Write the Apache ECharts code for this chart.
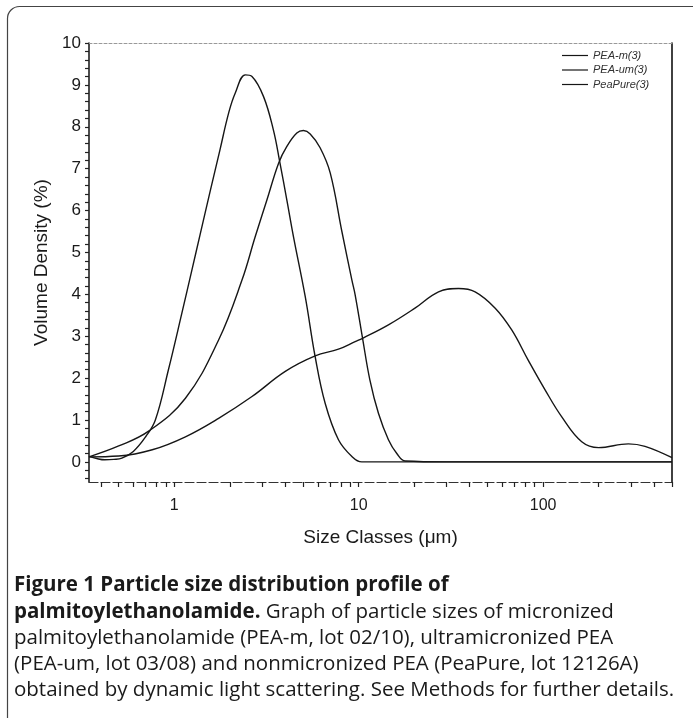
<!DOCTYPE html>
<html>
<head>
<meta charset="utf-8">
<script src="https://cdn.jsdelivr.net/npm/echarts@6/dist/echarts.min.js"></script>
<style>
  html, body { margin: 0; padding: 0; background: #fff; }
  #chart { width: 693px; height: 718px; }
</style>
</head>
<body>
<div id="chart"></div>
<script>
// ---- Data ----
const seriesNames = ['PEA-m(3)', 'PEA-um(3)', 'PeaPure(3)'];

const peaMX = [0.345, 0.5, 0.73, 1.15, 1.74, 2.33, 2.75, 3.18, 3.68, 4.08, 4.62, 5.02, 5.46, 6.18, 7.01, 8.11, 9.19, 9.57, 10.5, 11.5, 12.8, 14.5, 16.1, 17.9, 30, 100, 500];
const peaMY = [0.12, 0.38, 0.74, 1.52, 2.91, 4.34, 5.38, 6.25, 7.13, 7.53, 7.85, 7.91, 7.83, 7.5, 6.9, 5.5, 4.34, 3.99, 2.95, 1.96, 1.16, 0.53, 0.2, 0.02, 0, 0, 0];

const peaUmX = [0.345, 0.38, 0.42, 0.47, 0.52, 0.6, 0.7, 0.79, 0.93, 1.1, 1.25, 1.38, 1.57, 1.77, 1.97, 2.14, 2.43, 2.64, 3.05, 3.45, 3.72, 4.08, 4.43, 5.13, 5.81, 6.58, 7.77, 9.19, 10.4, 20, 100, 500];
const peaUmY = [0.13, 0.08, 0.05, 0.06, 0.09, 0.25, 0.6, 1.0, 2.2, 3.55, 4.6, 5.42, 6.48, 7.45, 8.32, 8.8, 9.24, 9.2, 8.72, 7.92, 7.2, 6.25, 5.38, 3.95, 2.51, 1.4, 0.53, 0.13, 0, 0, 0, 0];

const peaPureX = [0.345, 0.5, 0.76, 1.15, 1.74, 2.64, 4.0, 5.81, 7.77, 9.57, 10.5, 14.5, 20.2, 27.1, 34.8, 42.8, 55, 67.6, 83, 102.5, 126, 162, 200, 290, 357, 500];
const peaPureY = [0.12, 0.14, 0.29, 0.6, 1.04, 1.56, 2.16, 2.53, 2.69, 2.87, 2.95, 3.27, 3.67, 4.06, 4.14, 4.06, 3.67, 3.15, 2.43, 1.72, 1.08, 0.48, 0.34, 0.43, 0.37, 0.1];

const xLabelValues = [1, 10, 100];
const xTickValues = [0.4, 0.5, 0.6, 0.7, 0.8, 0.9, 1, 2, 3, 4, 5, 6, 7, 8, 9, 10, 20, 30, 40, 50, 60, 70, 80, 90, 100, 200, 300, 400, 500];
const yLabelValues = [0, 1, 2, 3, 4, 5, 6, 7, 8, 9, 10];
const yTickValues = [];
for (let i = -2; i <= 50; i++) yTickValues.push(Math.round(i * 0.2 * 10) / 10);

const xAxisTitle = 'Size Classes (μm)';
const yAxisTitle = 'Volume Density (%)';

const captionLines = [
  [['b', 'Figure 1 Particle size distribution profile of']],
  [['b', 'palmitoylethanolamide.'], ['r', ' Graph of particle sizes of micronized']],
  [['r', 'palmitoylethanolamide (PEA-m, lot 02/10), ultramicronized PEA']],
  [['r', '(PEA-um, lot 03/08) and nonmicronized PEA (PeaPure, lot 12126A)']],
  [['r', 'obtained by dynamic light scattering. See Methods for further details.']]
];

// ---- Build ----
function pairs(xs, ys) { return xs.map((x, i) => [x, ys[i]]); }

const chart = echarts.init(document.getElementById('chart'), null, { renderer: 'canvas' });

const lineColor = '#161616';
function mkSeries(name, xs, ys) {
  return {
    name: name, type: 'line', data: pairs(xs, ys),
    xAxisIndex: 0, yAxisIndex: 0,
    symbol: 'none', smooth: 0.4, clip: true,
    lineStyle: { color: lineColor, width: 1.4 },
    itemStyle: { color: lineColor },
    emphasis: { disabled: true }
  };
}

const capFont = '"Open Sans", "Noto Sans", sans-serif';
const capGraphics = captionLines.map((parts, i) => ({
  type: 'text', left: 14, top: 575 + i * 26.2,
  style: {
    text: parts.map(p => '{' + p[0] + '|' + p[1] + '}').join(''),
    rich: {
      b: { fontFamily: capFont, fontSize: 20.5, fontWeight: 'bold', fill: '#1a1a1a' },
      r: { fontFamily: capFont, fontSize: 20.5, fontWeight: 'normal', fill: '#1a1a1a' }
    }
  }
}));

const tickFont = '"Liberation Sans", Arial, sans-serif';

const option = {
  backgroundColor: '#fff',
  animation: false,
  grid: { left: 89, right: 21, top: 43, bottom: 236, containLabel: false },
  legend: {
    show: true, orient: 'vertical', left: 557, top: 45,
    icon: 'rect', itemWidth: 26, itemHeight: 1.2, itemGap: 3.5,
    textStyle: { fontSize: 11, fontStyle: 'italic', color: '#333', fontFamily: tickFont },
    data: seriesNames
  },
  xAxis: [{
    type: 'log', logBase: 10, min: 0.345, max: 500,
    position: 'bottom',
    name: xAxisTitle, nameLocation: 'middle', nameGap: 46,
    nameTextStyle: { fontFamily: tickFont, fontSize: 19, color: '#1a1a1a' },
    axisLine: { show: true, onZero: false, lineStyle: { color: '#333', width: 1.2, type: [9, 3] } },
    axisTick: { show: true, inside: false, length: 5, customValues: xTickValues, lineStyle: { color: '#222', width: 1.2 } },
    axisLabel: { show: true, customValues: xLabelValues, margin: 16, fontFamily: tickFont, fontSize: 16, color: '#1a1a1a', formatter: v => String(v) },
    splitLine: { show: false }, minorTick: { show: false }
  }, {
    type: 'log', logBase: 10, min: 0.345, max: 500, position: 'top',
    axisLine: { show: true, onZero: false, lineStyle: { color: '#999', width: 1, type: [3, 2] } },
    axisTick: { show: false }, axisLabel: { show: false }, splitLine: { show: false }
  }],
  yAxis: [{
    type: 'value', min: -0.48, max: 10,
    position: 'left',
    name: yAxisTitle, nameLocation: 'middle', nameGap: 38, nameRotate: 90,
    nameTextStyle: { fontFamily: tickFont, fontSize: 19, color: '#1a1a1a' },
    axisLine: { show: true, onZero: false, lineStyle: { color: '#111', width: 1.5 } },
    axisTick: { show: true, inside: false, length: 4, customValues: yTickValues, lineStyle: { color: '#222', width: 1.2 } },
    axisLabel: { show: true, customValues: yLabelValues, margin: 8, fontFamily: tickFont, fontSize: 17, color: '#1a1a1a' },
    splitLine: { show: false }
  }, {
    type: 'value', min: -0.48, max: 10, position: 'right',
    axisLine: { show: true, onZero: false, lineStyle: { color: '#111', width: 1.6 } },
    axisTick: { show: false }, axisLabel: { show: false }, splitLine: { show: false }
  }],
  series: [
    mkSeries(seriesNames[0], peaMX, peaMY),
    mkSeries(seriesNames[1], peaUmX, peaUmY),
    mkSeries(seriesNames[2], peaPureX, peaPureY)
  ],
  graphic: [{
    type: 'rect', left: 5, top: 4, silent: true,
    shape: { width: 740, height: 760, r: 12 },
    style: { fill: 'none', stroke: '#444', lineWidth: 1.2 }
  }].concat(capGraphics)
};
chart.setOption(option);
</script>
</body>
</html>
